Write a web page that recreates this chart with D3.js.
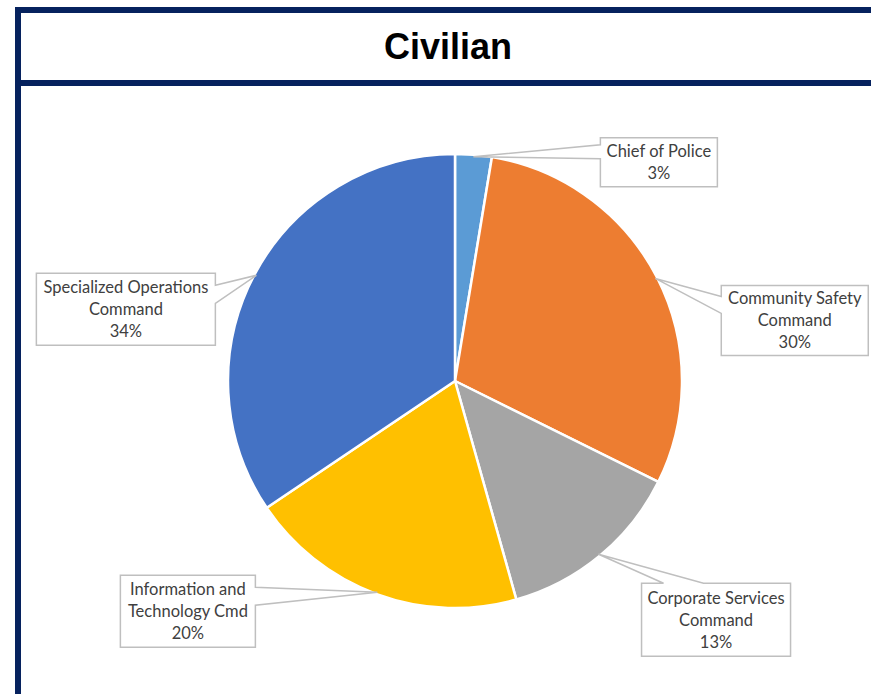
<!DOCTYPE html>
<html>
<head>
<meta charset="utf-8">
<script src="https://cdn.jsdelivr.net/npm/d3@7"></script>
<style>
  body { margin: 0; background: #ffffff; }
  svg { display: block; }
</style>
</head>
<body>
<div id="chart"></div>
<script>
// Data
var categories = ["Chief of Police", "Community Safety Command", "Corporate Services Command",
                  "Information and Technology Cmd", "Specialized Operations Command"];
var values = [2.6, 29.7, 13.3, 19.9, 34.4];
var labelLines = [["Chief of Police"], ["Community Safety", "Command"], ["Corporate Services", "Command"],
                  ["Information and", "Technology Cmd"], ["Specialized Operations", "Command"]];
var colors = ["#5b9bd5", "#ed7d31", "#a5a5a5", "#ffc000", "#4472c4"];

// Callout layout: box offset from the pointer tip, box size, side of pointer
var callouts = [
  {dx: 127,  dy: -19,  w: 117, h: 49, side: "left",  p0: 7,  p1: 21},
  {dx: 66,   dy: 7,    w: 147, h: 70, side: "left",  p0: 11, p1: 28},
  {dx: 43,   dy: 29,   w: 149, h: 73, side: "top",   p0: 22, p1: 62},
  {dx: -257, dy: -17,  w: 135, h: 72, side: "right", p0: 12, p1: 30},
  {dx: -220, dy: -2,   w: 179, h: 72, side: "right", p0: 12, p1: 30}
];

var width = 871, height = 694;
var center = {x: 455, y: 381};
var radius = 227;
var navy = "#06225e";

var svg = d3.select("#chart").append("svg")
    .attr("width", width)
    .attr("height", height);

// Frame
svg.append("rect").attr("x", 15).attr("y", 7).attr("width", 6).attr("height", height - 7).attr("fill", navy);
svg.append("rect").attr("x", 15).attr("y", 7).attr("width", width - 15).attr("height", 6).attr("fill", navy);
svg.append("rect").attr("x", 15).attr("y", 80).attr("width", width - 15).attr("height", 6).attr("fill", navy);

svg.append("text")
    .attr("x", 448)
    .attr("y", 59)
    .attr("text-anchor", "middle")
    .attr("font-family", "Liberation Sans, Arial, sans-serif")
    .attr("font-weight", "bold")
    .attr("font-size", 36)
    .attr("fill", "#000")
    .text("Civilian");

//---------------------------------------Pie---------------------------------------
var total = d3.sum(values);
var pie = d3.pie().sort(null).value(function(d) { return d; });
var arcs = pie(values);

var arc = d3.arc().innerRadius(0).outerRadius(radius);
// pointer tips sit on the rim at each slice's middle angle
var tipArc = d3.arc().innerRadius(radius - 2).outerRadius(radius - 2);

var g = svg.append("g").attr("transform", "translate(" + center.x + "," + center.y + ")");

g.selectAll("path.slice")
    .data(arcs)
    .enter().append("path")
    .attr("class", "slice")
    .attr("d", arc)
    .attr("fill", function(d, i) { return colors[i]; })
    .attr("stroke", "#ffffff")
    .attr("stroke-width", 2.5)
    .attr("stroke-linejoin", "round");

//--------------------------------------Callouts--------------------------------------
function calloutPath(t, c) {
  var x0 = t[0] + c.dx, y0 = t[1] + c.dy, x1 = x0 + c.w, y1 = y0 + c.h;
  if (c.side === "left") {
    return "M" + x0 + "," + y0 + "H" + x1 + "V" + y1 + "H" + x0 +
      "V" + (y0 + c.p1) + "L" + t[0] + "," + t[1] + "L" + x0 + "," + (y0 + c.p0) + "Z";
  }
  if (c.side === "right") {
    return "M" + x0 + "," + y0 + "H" + x1 + "V" + (y0 + c.p0) + "L" + t[0] + "," + t[1] +
      "L" + x1 + "," + (y0 + c.p1) + "V" + y1 + "H" + x0 + "Z";
  }
  // top
  return "M" + x0 + "," + y0 + "H" + (x0 + c.p0) + "L" + t[0] + "," + t[1] + "L" + (x0 + c.p1) + "," + y0 +
    "H" + x1 + "V" + y1 + "H" + x0 + "Z";
}

var labels = g.selectAll("g.callout")
    .data(arcs)
    .enter().append("g")
    .attr("class", "callout");

labels.append("path")
    .attr("d", function(d, i) { return calloutPath(tipArc.centroid(d), callouts[i]); })
    .attr("fill", "#ffffff")
    .attr("stroke", "#bfbfbf")
    .attr("stroke-width", 1.5);

labels.append("text")
    .attr("font-family", "Lato, Calibri, sans-serif")
    .attr("font-size", 16.5)
    .attr("fill", "#404040")
    .attr("text-anchor", "middle")
    .each(function(d, i) {
      var t = tipArc.centroid(d), c = callouts[i];
      var cx = t[0] + c.dx + c.w / 2;
      var lines = labelLines[i].concat([Math.round(d.value / total * 100) + "%"]);
      var top = t[1] + c.dy + c.h / 2 - (lines.length - 1) * 11;
      d3.select(this).selectAll("tspan")
          .data(lines)
          .enter().append("tspan")
          .attr("x", cx)
          .attr("y", function(l, k) { return top + k * 22; })
          .attr("dy", "0.35em")
          .text(function(l) { return l; });
    });
</script>
</body>
</html>
